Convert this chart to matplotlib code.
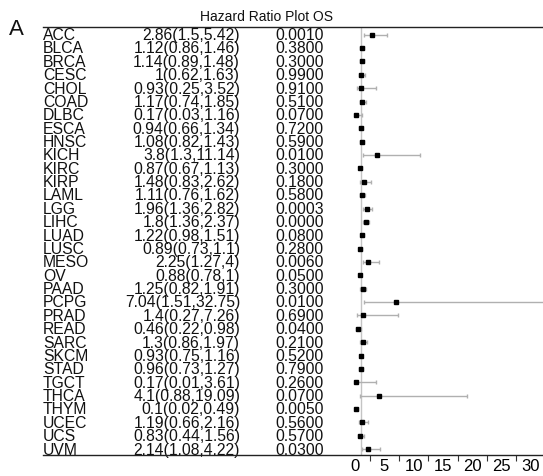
import matplotlib
matplotlib.use("Agg")
import matplotlib.pyplot as plt
from matplotlib.lines import Line2D
from matplotlib.transforms import blended_transform_factory
from matplotlib.ticker import FixedLocator
import numpy as np

plt.rcParams["font.family"] = ["Liberation Sans", "DejaVu Sans"]

cancers = ["ACC", "BLCA", "BRCA", "CESC", "CHOL", "COAD", "DLBC", "ESCA",
           "HNSC", "KICH", "KIRC", "KIRP", "LAML", "LGG", "LIHC", "LUAD",
           "LUSC", "MESO", "OV", "PAAD", "PCPG", "PRAD", "READ", "SARC",
           "SKCM", "STAD", "TGCT", "THCA", "THYM", "UCEC", "UCS", "UVM"]
hr = [2.86, 1.12, 1.14, 1, 0.93, 1.17, 0.17, 0.94,
      1.08, 3.8, 0.87, 1.48, 1.11, 1.96, 1.8, 1.22,
      0.89, 2.25, 0.88, 1.25, 7.04, 1.4, 0.46, 1.3,
      0.93, 0.96, 0.17, 4.1, 0.1, 1.19, 0.83, 2.14]
lower = [1.5, 0.86, 0.89, 0.62, 0.25, 0.74, 0.03, 0.66,
         0.82, 1.3, 0.67, 0.83, 0.76, 1.36, 1.36, 0.98,
         0.73, 1.27, 0.78, 0.82, 1.51, 0.27, 0.22, 0.86,
         0.75, 0.73, 0.01, 0.88, 0.02, 0.66, 0.44, 1.08]
upper = [5.42, 1.46, 1.48, 1.63, 3.52, 1.85, 1.16, 1.34,
         1.43, 11.14, 1.13, 2.62, 1.62, 2.82, 2.37, 1.51,
         1.1, 4, 1, 1.91, 32.75, 7.26, 0.98, 1.97,
         1.16, 1.27, 3.61, 19.09, 0.49, 2.16, 1.56, 4.22]
pvals = [0.0010, 0.3800, 0.3000, 0.9900, 0.9100, 0.5100, 0.0700, 0.7200,
         0.5900, 0.0100, 0.3000, 0.1800, 0.5800, 0.0003, 0.0000, 0.0800,
         0.2800, 0.0060, 0.0500, 0.3000, 0.0100, 0.6900, 0.0400, 0.2100,
         0.5200, 0.7900, 0.2600, 0.0700, 0.0050, 0.5600, 0.5700, 0.0300]

W, H = 543, 476
fig = plt.figure(figsize=(W / 100, H / 100), dpi=100)

def fx(px):
    return px / W

def fy(py):
    return 1 - py / H

# forest panel: x=0 at px 355.2, 5.85 px per unit; rows 13.37 px apart
left_px, right_px, top_px, bot_px = 346, 543, 27, 455
ax = fig.add_axes([fx(left_px), fy(bot_px), fx(right_px - left_px), (bot_px - top_px) / H])
ax.set_xlim((left_px - 355.2) / 5.85, (right_px - 355.2) / 5.85)
ax.set_ylim((bot_px - 34.7) / 13.37, (top_px - 34.7) / 13.37)
for s in ax.spines.values():
    s.set_visible(False)

y = np.arange(len(cancers))
hr_a = np.array(hr)
lo_a = np.array(lower)
hi_a = np.array(upper)

ax.axvline(1, color="#c4c4c4", lw=1, zorder=1)
ax.errorbar(hr_a, y, xerr=[hr_a - lo_a, hi_a - hr_a], fmt="none",
            ecolor="#b0b0b0", elinewidth=1, capsize=1.6, capthick=1, zorder=2)
ax.plot(hr_a, y, "s", color="black", ms=3.2, zorder=3, clip_on=False)

ax.set_yticks([])
ax.xaxis.set_major_locator(FixedLocator([0, 5, 10, 15, 20, 25, 30]))
ax.xaxis.set_minor_locator(FixedLocator([2.5, 7.5, 12.5, 17.5, 22.5, 27.5]))
ax.tick_params(axis="x", which="major", length=0, pad=3, labelsize=12)
ax.tick_params(axis="x", which="minor", length=4.5, width=0.8, color="#333333")

# table columns
tr = blended_transform_factory(fig.transFigure, ax.transData)
fmt = "{:g}"
for i, name in enumerate(cancers):
    yb = i + 0.40
    ax.text(fx(43), yb, name, transform=tr, ha="left", va="baseline",
            fontsize=11.3, color="#111111")
    ax.text(fx(240), yb, f"{fmt.format(hr[i])}({fmt.format(lower[i])},{fmt.format(upper[i])})",
            transform=tr, ha="right", va="baseline", fontsize=11.3, color="#111111")
    ax.text(fx(324), yb, f"{pvals[i]:.4f}", transform=tr, ha="right",
            va="baseline", fontsize=11.3, color="#111111")

# top and bottom rules
fig.add_artist(Line2D([fx(43), 1], [fy(27), fy(27)], color="#222222", lw=1))
fig.add_artist(Line2D([fx(43), 1], [fy(455), fy(455)], color="#222222", lw=1))

fig.text(fx(266), fy(21), "Hazard Ratio Plot OS", ha="center", va="baseline",
         fontsize=10, color="#111111")
fig.text(fx(9), fy(35), "A", ha="left", va="baseline", fontsize=16, color="#111111")

fig.savefig("out.png", dpi=100)
